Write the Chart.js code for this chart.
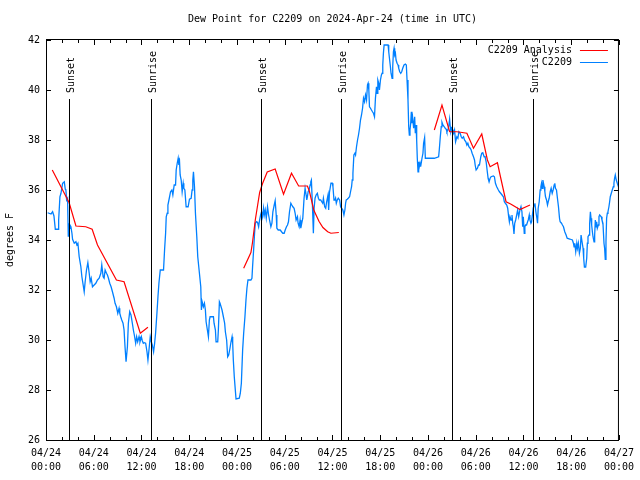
<!DOCTYPE html>
<html>
<head>
<meta charset="utf-8">
<title>Dew Point for C2209</title>
<script src="https://cdn.jsdelivr.net/npm/chart.js@4.4.0/dist/chart.umd.min.js"></script>
<style>
  html, body { margin: 0; padding: 0; background: #fff; }
  #graph { display: block; }
</style>
</head>
<body>
<canvas id="graph" width="640" height="480"></canvas>
<script>
// hours since 2024-04-24 00:00 UTC
const obsHours = [0.21,0.63,0.83,1.0,1.17,1.54,1.59,1.75,1.88,2.09,2.3,2.42,2.5,2.59,2.71,2.8,2.84,2.92,3.01,3.13,3.26,3.34,3.55,3.76,3.88,4.01,4.17,4.38,4.51,4.67,4.8,4.92,5.09,5.26,5.43,5.55,5.68,5.84,6.05,6.26,6.47,6.68,6.89,7.01,7.18,7.3,7.43,7.6,7.72,7.85,8.01,8.18,8.35,8.56,8.68,8.85,9.02,9.18,9.27,9.39,9.52,9.68,9.81,9.93,10.06,10.23,10.35,10.52,10.68,10.85,10.98,11.1,11.27,11.39,11.52,11.69,11.81,11.98,12.1,12.23,12.35,12.52,
  12.69,12.81,12.94,13.1,13.23,13.36,13.52,13.65,13.77,13.94,14.07,14.19,14.36,14.77,14.9,15.03,15.11,15.23,15.32,15.53,15.65,15.82,15.94,16.11,16.28,16.36,16.49,16.61,16.7,16.78,16.86,16.99,17.11,17.24,17.32,17.45,17.61,17.86,18.03,18.24,18.36,18.45,18.53,18.66,18.78,18.95,19.07,19.28,19.45,19.53,19.62,19.78,19.91,20.03,20.12,20.28,20.41,20.53,20.62,21.04,21.12,21.29,21.37,21.58,21.66,21.79,21.87,22.0,22.12,22.29,22.45,22.54,22.7,22.83,22.96,23.12,23.25,23.38,23.46,23.54,23.66,23.79,23.88,24.29,
  24.42,24.55,24.71,24.84,25.0,25.13,25.25,25.38,25.75,25.88,25.96,26.09,26.21,26.3,26.46,26.59,26.72,26.84,26.97,27.09,27.22,27.34,27.43,27.55,27.68,27.84,27.97,28.09,28.26,28.39,28.51,28.68,28.8,28.93,29.01,29.18,29.43,29.6,29.76,29.93,30.06,30.22,30.35,30.47,30.6,30.77,30.89,31.02,31.18,31.31,31.43,31.6,31.68,31.81,31.93,32.02,32.14,32.27,32.35,32.43,32.56,32.69,32.77,32.85,32.94,33.06,33.19,33.27,33.35,33.48,33.6,33.69,33.81,33.94,34.1,34.23,34.35,34.52,34.65,34.77,34.86,35.02,35.15,35.27,35.44,35.52,35.62,35.81,35.98,36.06,
  36.19,36.31,36.39,36.48,36.6,36.73,36.9,37.02,37.15,37.31,37.44,37.56,37.65,37.73,37.86,37.98,38.15,38.27,38.4,38.48,38.57,38.69,38.82,38.9,39.02,39.15,39.27,39.4,39.52,39.65,39.78,39.9,40.03,40.15,40.28,40.4,40.48,40.57,40.65,40.78,40.9,41.03,41.15,41.28,41.4,41.53,41.61,41.7,41.82,41.9,42.03,42.15,42.24,42.32,42.4,42.49,42.99,43.07,43.16,43.28,43.36,43.49,43.57,43.66,43.74,43.82,43.91,43.99,44.12,44.24,44.32,44.45,44.58,44.7,44.83,44.99,45.16,45.28,45.37,45.49,45.58,45.66,45.74,45.83,45.91,45.99,46.08,46.2,46.33,46.41,46.5,46.58,46.66,46.75,46.83,46.91,47.0,47.08,47.25,47.37,47.45,47.58,
  47.67,48.2,48.8,49.34,49.42,49.55,49.67,49.76,49.88,50.05,50.17,50.3,50.38,50.51,50.63,50.72,50.8,50.88,51.01,51.13,51.22,51.34,51.47,51.63,51.76,51.88,52.05,52.18,52.3,52.47,52.59,52.76,52.89,53.01,53.14,53.3,53.43,53.55,53.72,53.85,53.93,54.05,54.22,54.35,54.47,54.64,54.76,54.89,55.06,55.18,55.31,55.43,55.56,55.68,55.81,55.93,56.22,56.35,56.48,56.64,56.85,56.98,57.14,57.31,57.48,57.6,57.73,57.9,58.02,58.14,58.23,58.31,58.44,58.56,58.65,58.73,58.81,58.9,59.02,59.15,59.27,59.4,59.56,59.69,59.81,59.9,59.98,
  60.1,60.18,60.27,60.39,60.52,60.6,60.73,60.81,60.94,61.02,61.23,61.35,61.44,61.56,61.69,61.77,61.85,61.98,62.1,62.19,62.27,62.36,62.44,62.52,62.61,62.69,62.77,62.9,63.02,63.11,63.23,63.36,63.48,63.61,63.73,63.86,63.94,64.02,64.15,64.27,64.4,64.53,64.61,64.78,64.9,65.03,65.19,65.36,65.49,65.82,66.15,66.28,66.36,66.45,66.57,66.7,66.78,66.9,67.03,67.15,67.24,67.36,67.49,67.57,67.66,67.82,67.95,68.03,68.11,68.24,68.32,68.41,68.49,68.57,68.66,68.74,68.87,68.95,69.03,69.12,69.2,69.28,69.41,69.49,69.58,69.78,69.87,69.99,70.12,70.2,70.28,70.37,70.45,70.54,70.62,70.74,70.83,70.91,71.04,71.16,71.29,71.37,71.45,71.54,71.66,71.79,71.87];
const obsDewpt = [35.09,35.04,35.13,34.96,34.43,34.43,34.8,35.73,35.87,36.27,36.33,36.03,36.0,35.6,35.67,34.16,34.67,34.47,34.6,34.53,34.27,34.03,33.87,33.93,33.8,33.87,33.33,32.93,32.53,32.2,31.93,32.33,32.8,33.09,32.67,32.33,32.47,32.13,32.2,32.27,32.4,32.47,32.67,33.0,32.53,32.47,32.8,32.67,32.6,32.47,32.27,32.13,31.93,31.67,31.47,31.33,31.07,31.27,31.07,30.93,30.8,30.67,30.4,29.73,29.13,29.73,30.67,31.13,31.0,30.67,30.4,30.2,29.87,30.13,29.93,30.13,29.93,30.13,29.97,29.87,29.89,29.87,
  29.53,29.2,29.6,30.13,29.93,29.8,29.53,29.87,30.27,31.07,31.73,32.27,32.8,32.8,33.6,34.27,34.93,35.07,35.4,35.73,35.93,36.0,35.8,36.2,36.2,36.8,37.07,37.27,37.0,37.13,36.6,36.4,35.93,36.27,36.07,36.0,35.33,35.33,35.63,35.67,36.0,36.4,36.73,36.13,35.07,34.13,33.33,32.67,32.13,31.2,31.53,31.33,31.47,31.2,30.73,30.4,30.13,30.8,30.93,30.93,30.67,30.4,29.93,29.93,30.4,31.53,31.47,31.33,31.2,30.93,30.67,30.33,30.0,29.33,29.4,29.67,29.93,30.13,29.87,29.2,28.53,28.0,27.64,27.67,
  27.87,28.27,29.6,30.27,30.93,31.6,32.07,32.4,32.4,32.47,32.93,33.6,34.27,34.67,34.73,34.7,34.53,34.8,35.0,35.13,34.93,35.27,35.0,35.2,34.87,35.33,35.0,34.8,34.53,34.67,35.13,35.4,35.57,35.0,34.47,34.4,34.4,34.33,34.27,34.27,34.4,34.53,34.6,34.73,35.13,35.47,35.4,35.33,35.27,35.07,34.8,34.93,34.67,34.53,34.8,34.47,34.67,34.87,35.27,35.67,36.07,35.8,35.6,35.73,35.93,36.0,36.2,36.33,36.4,35.4,34.27,35.27,35.67,35.8,35.87,35.67,35.6,35.6,35.53,35.47,35.67,35.33,35.27,35.53,35.8,35.2,35.9,36.27,36.27,36.13,
  35.6,35.6,35.67,35.47,35.6,35.67,35.6,35.33,35.27,35.2,35.0,35.2,35.47,35.6,35.63,35.67,35.73,35.93,36.13,36.4,36.67,37.4,37.47,37.4,37.73,38.0,38.2,38.47,38.8,39.0,39.27,39.67,39.53,39.8,39.6,40.2,40.27,40.0,39.33,39.27,39.2,39.13,39.07,38.93,39.67,40.13,39.87,40.4,40.27,40.0,40.4,40.6,40.67,41.0,41.47,41.8,41.8,41.53,41.27,40.93,40.67,40.47,40.93,41.53,41.67,41.4,41.47,41.2,41.07,41.0,40.87,40.73,40.67,40.73,40.87,41.0,41.04,41.0,40.4,39.6,38.53,38.2,38.4,38.67,39.13,38.67,38.87,38.47,38.93,38.27,38.6,38.0,37.27,36.73,37.13,36.93,37.07,36.93,37.27,37.47,37.87,38.1,
  37.27,37.27,37.27,37.33,37.6,38.13,38.53,38.71,38.6,38.53,38.47,38.43,38.33,38.4,38.6,38.83,38.53,38.33,38.47,38.4,38.27,38.4,37.93,38.13,38.07,38.33,38.27,38.13,38.07,38.13,38.0,37.93,37.8,37.87,37.73,37.67,37.6,37.47,37.33,37.2,37.0,36.8,36.87,37.0,37.0,37.33,37.47,37.49,37.33,37.33,37.13,36.8,36.47,36.33,36.47,36.53,36.56,36.53,36.27,36.13,36.0,35.93,35.87,35.8,35.73,35.53,35.47,35.4,35.27,34.93,34.73,34.93,34.8,35.0,34.67,34.53,34.24,34.67,34.8,35.0,35.2,34.93,35.2,35.33,35.13,34.53,34.93,
  34.27,34.53,34.6,34.6,34.73,34.8,35.0,34.8,34.67,34.73,35.27,35.4,35.47,35.13,34.87,34.67,35.27,35.53,36.0,36.13,36.27,36.07,36.4,36.27,36.13,35.93,35.73,35.6,35.4,35.53,35.67,35.93,36.07,35.87,36.0,36.2,36.27,36.07,36.0,35.67,35.33,34.87,34.73,34.67,34.6,34.53,34.33,34.2,34.07,34.04,34.0,33.87,33.73,33.87,33.53,33.87,33.67,33.87,33.47,33.67,34.2,33.93,33.67,33.27,32.92,32.92,33.27,33.87,34.13,34.2,34.67,35.13,34.87,34.6,34.33,34.13,33.93,34.2,34.8,34.53,34.73,34.47,34.6,34.93,35.0,34.93,34.8,34.67,33.87,33.67,33.23,33.93,34.87,35.07,35.13,35.33,35.53,35.73,35.87,36.0,36.13,36.27,36.47,36.6,36.4,36.27,36.2];

// analysis series, null marks a gap
const anaHours = [0.79,2.9,3.76,5.0,5.8,6.47,8.85,9.81,11.85,12.81, 18.0,
  24.84,25.75,25.95,26.3,26.85,27.2,27.8,28.8,29.85,30.85,31.75,32.85,33.1,33.65,34.3,34.8,35.4,35.8,36.8, 42.0,
  48.8,49.76,50.72,51.63,52.3,52.89,53.72,54.76,55.47,55.81,56.73,57.06,57.81,58.39,59.56,60.82];
const anaDewpt = [36.8,35.5,34.56,34.53,34.43,33.8,32.4,32.33,30.27,30.51, null,
  32.87,33.5,33.9,34.8,35.9,36.25,36.72,36.84,35.83,36.67,36.16,36.16,35.95,35.2,34.75,34.5,34.33,34.27,34.3, null,
  38.4,39.4,38.33,38.33,38.3,38.27,37.67,38.24,37.2,36.93,37.09,36.6,35.53,35.44,35.22,35.4];

const eventHours = [2.92, 13.19, 26.96, 37.1, 51.0, 61.14];
const eventNames = ['Sunset', 'Sunrise', 'Sunset', 'Sunrise', 'Sunset', 'Sunrise'];

const tickDates = ['04/24','04/24','04/24','04/24','04/25','04/25','04/25','04/25','04/26','04/26','04/26','04/26','04/27'];
const tickTimes = ['00:00','06:00','12:00','18:00','00:00','06:00','12:00','18:00','00:00','06:00','12:00','18:00','00:00'];

const MONO = '"DejaVu Sans Mono", "Liberation Mono", monospace';
const RED = '#ff0000';
const BLUE = '#0080ff';

const toPoints = (hours, vals) => hours.map((h, i) => ({ x: h, y: vals[i] }));

// frame, inward tics, sun lines, title and key, gnuplot style
const decor = {
    id: 'decor',
    afterDraw(chart) {
        const ctx = chart.ctx;
        const a = chart.chartArea;
        const xs = chart.scales.x;
        const ys = chart.scales.y;
        const seg = (x1, y1, x2, y2) => {
            ctx.beginPath(); ctx.moveTo(x1, y1); ctx.lineTo(x2, y2); ctx.stroke();
        };
        ctx.save();
        ctx.strokeStyle = '#000';
        ctx.fillStyle = '#000';
        ctx.lineWidth = 1;
        ctx.strokeRect(a.left + 0.5, a.top - 0.5, a.right - a.left - 1, a.bottom - a.top + 1);

        for (let h = 0; h <= 72; h += 2) {
            const x = Math.round(xs.getPixelForValue(h)) + 0.5;
            const len = h % 6 === 0 ? 5 : 3;
            seg(x, a.bottom, x, a.bottom - len);
            seg(x, a.top, x, a.top + len);
        }
        for (let v = 26; v <= 42; v += 2) {
            const y = Math.round(ys.getPixelForValue(v)) + 0.5;
            seg(a.left, y, a.left + 5, y);
            seg(a.right, y, a.right - 5, y);
        }

        ctx.font = '10px ' + MONO;
        eventHours.forEach((h, i) => {
            const x = Math.round(xs.getPixelForValue(h)) + 0.5;
            seg(x, a.top + 59, x, a.bottom);
            ctx.save();
            ctx.translate(x + 4.5, a.top + 53);
            ctx.rotate(-Math.PI / 2);
            ctx.textAlign = 'left';
            ctx.textBaseline = 'alphabetic';
            ctx.fillText(eventNames[i], 0, 0);
            ctx.restore();
        });

        // title
        ctx.textAlign = 'center';
        ctx.textBaseline = 'middle';
        ctx.fillText('Dew Point for C2209 on 2024-Apr-24 (time in UTC)', (a.left + a.right) / 2, 19);

        // key
        const keys = [['C2209 Analysis', RED], ['C2209', BLUE]];
        keys.forEach((k, i) => {
            const y = a.top + 10 + i * 12;
            ctx.textAlign = 'right';
            ctx.fillStyle = '#000';
            ctx.fillText(k[0], a.right - 47, y);
            ctx.strokeStyle = k[1];
            seg(a.right - 39, Math.round(y) + 0.5, a.right - 11, Math.round(y) + 0.5);
        });
        ctx.restore();
    }
};

const config = {
    type: 'line',
    data: {
        datasets: [{
            label: 'C2209 Analysis',
            data: toPoints(anaHours, anaDewpt),
            borderColor: RED,
            borderWidth: 1.2,
            pointRadius: 0,
            spanGaps: false,
            tension: 0
        }, {
            label: 'C2209',
            data: toPoints(obsHours, obsDewpt),
            borderColor: BLUE,
            borderWidth: 1.3,
            pointRadius: 0,
            tension: 0
        }]
    },
    options: {
        responsive: false,
        animation: false,
        devicePixelRatio: 1,
        layout: { padding: { top: 40, right: 19, left: 0, bottom: 0 } },
        plugins: {
            legend: { display: false },
            title: { display: false },
            tooltip: { enabled: false }
        },
        scales: {
            x: {
                type: 'linear',
                min: 0,
                max: 72,
                grid: { display: false, drawTicks: false },
                border: { display: false },
                ticks: {
                    stepSize: 6,
                    autoSkip: false,
                    maxRotation: 0,
                    padding: 6,
                    color: '#000',
                    font: { family: MONO, size: 10, lineHeight: 1.4 },
                    callback: function (value) {
                        const i = Math.round(value / 6);
                        return [tickDates[i], tickTimes[i]];
                    }
                },
                afterFit: function (scale) { scale.height = 40; }
            },
            y: {
                min: 26,
                max: 42,
                grid: { display: false, drawTicks: false },
                border: { display: false },
                ticks: {
                    stepSize: 2,
                    padding: 6,
                    color: '#000',
                    font: { family: MONO, size: 10 }
                },
                title: {
                    display: true,
                    text: 'degrees F',
                    color: '#000',
                    font: { family: MONO, size: 10 },
                    padding: { top: 4, bottom: 0 }
                },
                afterFit: function (scale) { scale.width = 46; }
            }
        }
    },
    plugins: [decor]
};

document.addEventListener('DOMContentLoaded', function () {
    const graph = document.querySelector('#graph').getContext('2d');
    new Chart(graph, config);
});
</script>
</body>
</html>
